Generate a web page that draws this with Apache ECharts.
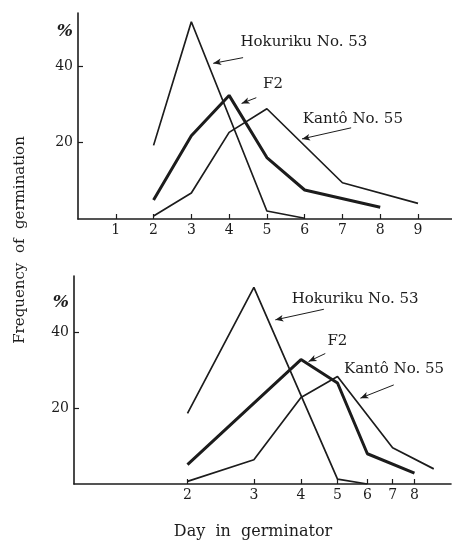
<!DOCTYPE html>
<html><head><meta charset="utf-8">
<script src="https://cdn.jsdelivr.net/npm/echarts@6/dist/echarts.min.js"></script>
<style>html,body{margin:0;padding:0;background:#fff}#c{width:452px;height:544px}</style>
</head><body><div id="c"></div>
<script>
// ---- data ----
const topDayTicks = [1, 2, 3, 4, 5, 6, 7, 8, 9];
const bottomDayTicks = [2, 3, 4, 5, 6, 7, 8];
const percentTicks = [20, 40];
// upper panel (linear day scale): [day, %]
const topHokuriku = [[2, 19.3], [3, 51.7], [5, 2.1], [6, 0.2]];
const topF2 = [[2, 5], [3, 21.8], [4, 32.4], [5, 16.1], [6, 7.6], [8, 3.1]];
const topKanto = [[2, 0.8], [3, 6.8], [4, 22.7], [5, 28.9], [7, 9.5], [9, 4.1]];
// lower panel (logarithmic day scale): [day, %]
const botHokuriku = [[2, 18.7], [3, 52], [5, 1.3], [6, 0]];
const botF2 = [[2, 5.1], [4, 32.9], [5, 26.7], [6, 8], [8, 2.9]];
const botKanto = [[2, 0.7], [3, 6.4], [4, 22.9], [5, 28.4], [7, 9.6], [9, 4]];
const names = ['Hokuriku No. 53', 'F2', 'Kantô No. 55'];

// ---- layout / styling ----
const ink = '#1c1c1c';
const font = '"DejaVu Serif", "Liberation Serif", serif';
// annotation anchors in data coords: text left-middle, arrow from -> to
const topNotes = [
  { at: [4.3, 46.3], from: [4.37, 42.3], to: [3.58, 40.8] },
  { at: [4.9, 35.3], from: [4.72, 31.8], to: [4.33, 30.3] },
  { at: [5.95, 26.3], from: [7.23, 23.9], to: [5.93, 21.0] }
];
const botNotes = [
  { at: [3.78, 48.9], from: [4.6, 46.2], to: [3.42, 43.4] },
  { at: [4.7, 37.8], from: [4.64, 34.5], to: [4.19, 32.4] },
  { at: [5.2, 30.4], from: [7.05, 26.2], to: [5.75, 22.7] }
];

function xAxisCfg(grid, extra) {
  return Object.assign({
    gridIndex: grid,
    axisLine: { show: true, lineStyle: { color: ink, width: 1.6 } },
    splitLine: { show: false }
  }, extra);
}
function yAxisCfg(grid, max, pctPos) {
  return {
    type: 'value', gridIndex: grid, min: 0, max: max,
    axisLine: { show: true, lineStyle: { color: ink, width: 1.6 } },
    axisTick: { show: true, inside: true, length: 5, customValues: percentTicks, lineStyle: { color: ink, width: 1.2 } },
    axisLabel: {
      color: ink, fontFamily: font, fontSize: 14, margin: 5,
      customValues: percentTicks.concat([pctPos]),
      formatter: v => (v === pctPos ? '{p|%}' : String(v)),
      rich: { p: { fontFamily: font, fontSize: 17, fontStyle: 'italic', fontWeight: 'bold', color: ink } }
    },
    splitLine: { show: false }
  };
}
function notes(list) {
  return {
    markPoint: {
      symbol: 'circle', symbolSize: 0, silent: true,
      data: list.map((n, i) => ({
        coord: n.at,
        label: { show: true, position: 'right', distance: 0, formatter: names[i],
          color: ink, fontFamily: font, fontSize: 15 }
      }))
    },
    markLine: {
      silent: true, symbol: ['none', 'arrow'], symbolSize: [5, 8],
      label: { show: false },
      lineStyle: { color: ink, width: 1, type: 'solid' },
      data: list.map(n => [{ coord: n.from }, { coord: n.to }])
    }
  };
}
function line(data, idx, w, extra) {
  return Object.assign({
    type: 'line', xAxisIndex: idx, yAxisIndex: idx, data: data,
    symbol: 'none', showSymbol: false, smooth: false,
    lineStyle: { color: ink, width: w }, itemStyle: { color: ink },
    z: 3
  }, extra || {});
}
function tickCfg(vals) {
  return { show: true, inside: true, length: 5, customValues: vals, lineStyle: { color: ink, width: 1.2 } };
}
function labelCfg(vals) {
  return { color: ink, fontFamily: font, fontSize: 14, margin: 4, customValues: vals };
}

const chart = echarts.init(document.getElementById('c'), null, { renderer: 'canvas' });
chart.setOption({
  animation: false,
  backgroundColor: '#fff',
  grid: [
    { left: 78, top: 13, width: 374, height: 206 },
    { left: 74, top: 276, width: 377, height: 208 }
  ],
  xAxis: [
    xAxisCfg(0, { type: 'value', min: 0, max: 9.9, axisTick: tickCfg(topDayTicks), axisLabel: labelCfg(topDayTicks) }),
    xAxisCfg(1, { type: 'log', logBase: 10, min: 1, max: 10, axisTick: tickCfg(bottomDayTicks), axisLabel: labelCfg(bottomDayTicks) })
  ],
  yAxis: [yAxisCfg(0, 54, 49), yAxisCfg(1, 55, 48)],
  series: [
    line(topHokuriku, 0, 1.7, notes(topNotes)),
    line(topF2, 0, 3),
    line(topKanto, 0, 1.7),
    line(botHokuriku, 1, 1.7, notes(botNotes)),
    line(botF2, 1, 3),
    line(botKanto, 1, 1.7)
  ],
  graphic: [
    { type: 'text', x: 20, y: 240, rotation: Math.PI / 2,
      style: { text: 'Frequency  of  germination', fill: ink, font: '15px ' + font, align: 'center', verticalAlign: 'middle' } },
    { type: 'text', x: 253, y: 532,
      style: { text: 'Day  in  germinator', fill: ink, font: '16px ' + font, align: 'center', verticalAlign: 'middle' } }
  ]
});
</script>
</body></html>
